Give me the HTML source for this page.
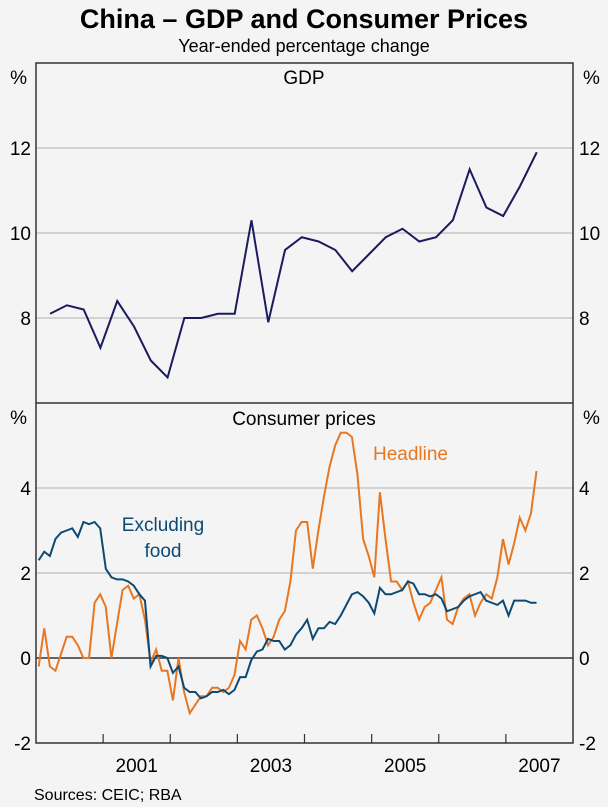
<!DOCTYPE html>
<html><head><meta charset="utf-8"><style>
body{margin:0;background:#f4f4f4;}
svg{display:block;font-family:"Liberation Sans",Arial,sans-serif;}
</style></head><body>
<svg id="c" width="608" height="807" viewBox="0 0 608 807">
<rect width="608" height="807" fill="#f4f4f4"/>
<text x="304" y="28" text-anchor="middle" font-size="27" font-weight="bold" fill="#000">China – GDP and Consumer Prices</text>
<text x="304" y="52" text-anchor="middle" font-size="18" fill="#000">Year-ended percentage change</text>
<text x="304" y="84" text-anchor="middle" font-size="19">GDP</text>
<text x="304" y="425" text-anchor="middle" font-size="19">Consumer prices</text>
<text x="373" y="460" font-size="19" fill="#e87722">Headline</text>
<text x="163" y="531" text-anchor="middle" font-size="19" fill="#0d4a73">Excluding</text>
<text x="163" y="557" text-anchor="middle" font-size="19" fill="#0d4a73">food</text>
<text x="34" y="800" font-size="16">Sources: CEIC; RBA</text>
<g id="g"></g>
</svg>
<script>
const gdpValues=[8.1,8.3,8.2,7.3,8.4,7.8,7.0,6.6,8.0,8.0,8.1,8.1,10.3,7.9,9.6,9.9,9.8,9.6,9.1,9.5,9.9,10.1,9.8,9.9,10.3,11.5,10.6,10.4,11.1,11.9];
const headline=[-0.2,0.7,-0.2,-0.3,0.1,0.5,0.5,0.3,0,0,1.3,1.5,1.2,0,0.8,1.6,1.7,1.4,1.5,0.9,-0.1,0.2,-0.3,-0.3,-1.0,0.0,-0.8,-1.3,-1.1,-0.9,-0.9,-0.7,-0.7,-0.8,-0.7,-0.4,0.4,0.2,0.9,1.0,0.7,0.3,0.5,0.9,1.1,1.8,3.0,3.2,3.2,2.1,3.0,3.8,4.5,5.0,5.3,5.3,5.2,4.3,2.8,2.4,1.9,3.9,2.8,1.8,1.8,1.6,1.8,1.3,0.9,1.2,1.3,1.6,1.9,0.9,0.8,1.2,1.4,1.5,1.0,1.3,1.5,1.4,1.9,2.8,2.2,2.7,3.3,3.0,3.4,4.4];
const exFood=[2.3,2.5,2.4,2.8,2.95,3.0,3.05,2.85,3.2,3.15,3.2,3.05,2.1,1.9,1.85,1.85,1.8,1.7,1.5,1.35,-0.2,0.05,0.05,0.0,-0.35,-0.2,-0.7,-0.8,-0.8,-0.95,-0.9,-0.8,-0.8,-0.75,-0.85,-0.75,-0.45,-0.45,-0.05,0.15,0.2,0.45,0.4,0.4,0.2,0.3,0.55,0.7,0.9,0.45,0.7,0.7,0.85,0.8,1.0,1.25,1.5,1.55,1.45,1.3,1.05,1.65,1.5,1.5,1.55,1.6,1.8,1.75,1.5,1.5,1.45,1.5,1.4,1.1,1.15,1.2,1.35,1.45,1.5,1.55,1.35,1.3,1.25,1.35,1.0,1.35,1.35,1.35,1.3,1.3];
const gdpTicks=[8,10,12];
const cpiTicks=[-2,0,2,4];
const yearLabels=[2001,2003,2005,2007];
const L=36,R=573,T1=63,B1=403,T2=403,B2=743;
const X0=2000,X1=2008;
const x=t=>L+(t-X0)/(X1-X0)*(R-L);
const y1=v=>B1-(v-6)/8*(B1-T1);
const y2=v=>B2-(v+2)/8*(B2-T2);
const g=document.getElementById('g');
const NS='http://www.w3.org/2000/svg';
function mk(tag,attrs){const e=document.createElementNS(NS,tag);for(const k in attrs)e.setAttribute(k,attrs[k]);g.appendChild(e);return e;}
gdpTicks.forEach(v=>{
 const l=mk('line',{x1:L,x2:R,y1:y1(v),y2:y1(v),stroke:'#bdbdbd','stroke-width':1.2});
 
 
 ['end','start'].forEach(a=>{const t=mk('text',{x:a==='end'?31:579,y:y1(v)+7,'text-anchor':a,'font-size':19});t.textContent=v;
 
 });
});
cpiTicks.forEach(v=>{
 if(v>-2){const l=mk('line',{x1:L,x2:R,y1:y2(v),y2:y2(v),stroke:v===0?'#333':'#bdbdbd','stroke-width':v===0?1.5:1.2});
 
 }
 ['end','start'].forEach(a=>{const t=mk('text',{x:a==='end'?31:579,y:y2(v)+7,'text-anchor':a,'font-size':19});t.textContent=v;
 
 });
});
[T1,T2].forEach(ty=>{['end','start'].forEach(a=>{const t=mk('text',{x:a==='end'?27:583,y:ty+21,'text-anchor':a,'font-size':19});t.textContent='%';
 
 });});
for(let yr=2001;yr<2008;yr++){const l=mk('line',{x1:x(yr),x2:x(yr),y1:B2,y2:B2-9,stroke:'#333','stroke-width':1.2});
 
 }
yearLabels.forEach(yr=>{const t=mk('text',{x:x(yr+0.5),y:B2+29,'text-anchor':'middle','font-size':19});t.textContent=yr;
 
 });
const frame=mk('rect',{x:L,y:T1,width:R-L,height:B2-T1,fill:'none',stroke:'#333','stroke-width':1.5});


const div=mk('line',{x1:L,x2:R,y1:B1,y2:B1,stroke:'#333','stroke-width':1.5});


const gp=mk('polyline',{points:gdpValues.map((v,i)=>x(2000.21+0.25*i)+','+y1(v)).join(' '),fill:'none',stroke:'#1b1b5e','stroke-width':2});


const hl=mk('polyline',{points:headline.map((v,i)=>x(2000.04+i/12)+','+y2(v)).join(' '),fill:'none',stroke:'#e87722','stroke-width':2});


const ef=mk('polyline',{points:exFood.map((v,i)=>x(2000.04+i/12)+','+y2(v)).join(' '),fill:'none',stroke:'#0d4a73','stroke-width':2});


</script>
</body></html>
